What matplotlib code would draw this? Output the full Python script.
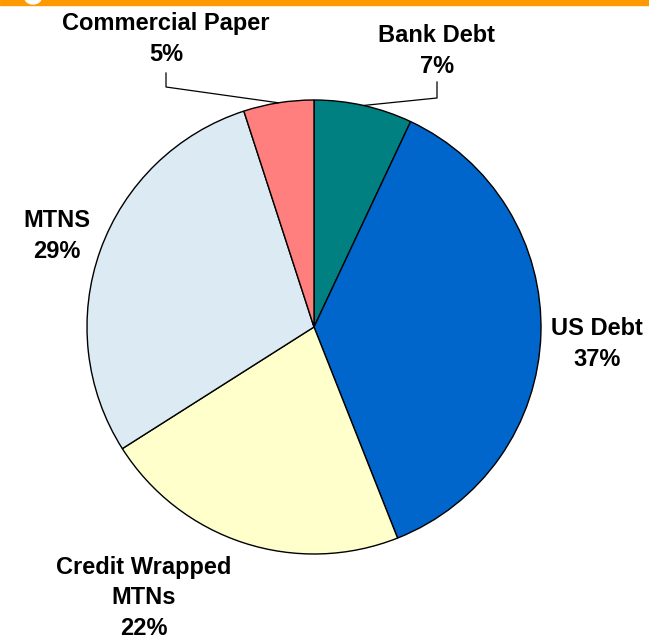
import numpy as np
import matplotlib.pyplot as plt
from matplotlib.patches import Rectangle, Ellipse

# Funding mix, clockwise from 12 o'clock
labels = ['Bank Debt', 'US Debt', 'Credit Wrapped\nMTNs', 'MTNS', 'Commercial Paper']
shares = [7, 37, 22, 29, 5]
colors = ['#008080', '#0066CC', '#FFFFCC', '#DCEBF3', '#FF7F7F']

# label anchor (centre of text block) in pixel coords, y measured from top
label_pos = [(437, 51), (597, 344), (144, 598), (57, 236), (166, 39)]

W, H = 649, 640
cx, cy, r = 314, 327, 227

plt.rcParams['font.family'] = ['Liberation Sans', 'DejaVu Sans']

fig = plt.figure(figsize=(W / 100, H / 100), dpi=100)
ax = fig.add_axes([0, 0, 1, 1])

wedges, _ = ax.pie(shares, colors=colors, startangle=90, counterclock=False,
                   center=(cx, H - cy), radius=r, frame=True,
                   wedgeprops=dict(edgecolor='black', linewidth=1.0))
ax.set_xlim(0, W)
ax.set_ylim(0, H)
ax.set_aspect('equal')
ax.axis('off')

# header strip
ax.add_patch(Rectangle((0, H - 5), W, 5, color='#FF9900', zorder=5))
ax.add_patch(Ellipse((33, H + 3), 17, 14, color='white', zorder=6))

for lab, val, (lx, ly) in zip(labels, shares, label_pos):
    ax.text(lx, H - ly, f'{lab}\n{val}%', ha='center', va='center',
            fontsize=17, fontweight='bold', linespacing=1.42, zorder=7)

# leader lines for the two small slices
cum = np.cumsum([0] + shares)
elbows = {0: (437, 98, 437, 82), 4: (166, 87, 166, 73)}
for i, (ex, ey, tx, ty) in elbows.items():
    mid = 90 - (cum[i] + shares[i] / 2) / 100 * 360
    px = cx + r * np.cos(np.radians(mid))
    py = cy - r * np.sin(np.radians(mid))
    ax.plot([px, ex, tx], [H - py, H - ey, H - ty], color='black', lw=0.9, zorder=4)

fig.savefig('out.png', dpi=100, facecolor='white')
